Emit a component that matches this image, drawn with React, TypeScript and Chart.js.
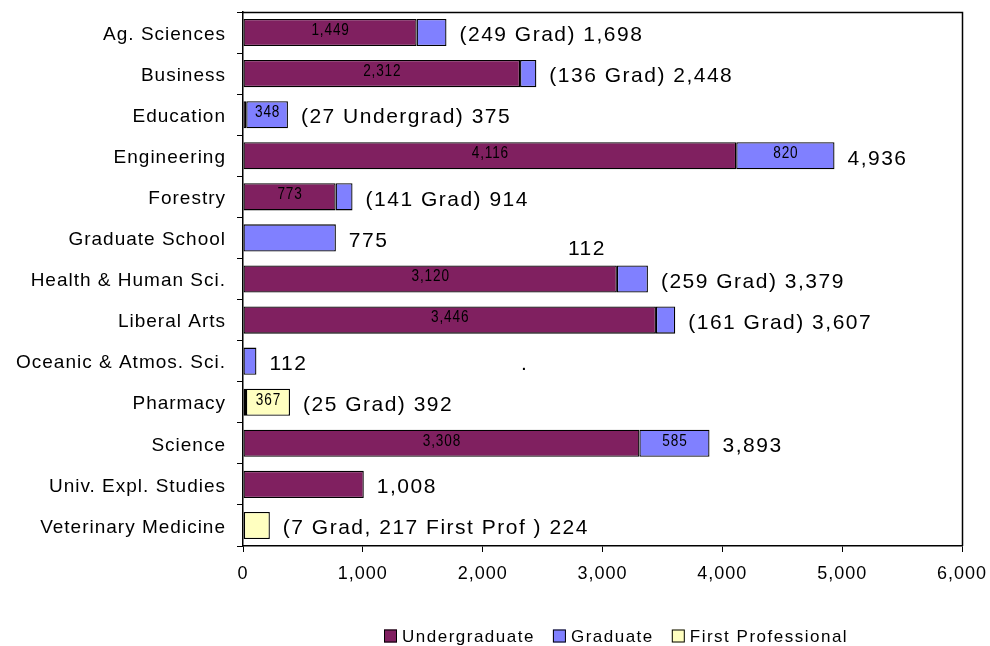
import React, { useEffect, useRef } from 'react';
import { Chart, registerables } from 'chart.js';

Chart.register(...registerables);

const categories = [
  'Ag. Sciences',
  'Business',
  'Education',
  'Engineering',
  'Forestry',
  'Graduate School',
  'Health & Human Sci.',
  'Liberal Arts',
  'Oceanic & Atmos. Sci.',
  'Pharmacy',
  'Science',
  'Univ. Expl. Studies',
  'Veterinary Medicine',
];

const undergraduate = [1449, 2312, 27, 4116, 773, 0, 3120, 3446, 0, 0, 3308, 1008, 0];
const graduate = [249, 136, 348, 820, 141, 775, 259, 161, 112, 25, 585, 0, 7];
const firstProfessional = [0, 0, 0, 0, 0, 0, 0, 0, 0, 367, 0, 0, 217];

const totalLabels = [
  '(249 Grad) 1,698',
  '(136 Grad) 2,448',
  '(27 Undergrad) 375',
  '4,936',
  '(141 Grad) 914',
  '775',
  '(259 Grad) 3,379',
  '(161 Grad) 3,607',
  '112',
  '(25 Grad) 392',
  '3,893',
  '1,008',
  '(7 Grad, 217 First Prof ) 224',
];

// which segments carry a value label inside the bar
const undergradInside = [true, true, false, true, true, false, true, true, false, false, true, false, false];
const graduateInside = [false, false, true, true, false, false, false, false, false, false, true, false, false];
const firstProfInside = [false, false, false, false, false, false, false, false, false, true, false, false, false];

// stray labels left in the original chart (value on x axis, row on category axis)
const strayLabels = [
  { text: '112', value: 2712, row: 5.2 },
  { text: '.', value: 2320, row: 8 },
];

const xMin = 0;
const xMax = 6000;
const xStep = 1000;

const seriesNames = ['Undergraduate', 'Graduate', 'First Professional'];
const seriesColors = ['#802060', '#8080FF', '#FFFFC0'];

const FONT = '"Liberation Sans", Arial, Helvetica, sans-serif';

const annotatePlugin = {
  id: 'annotate',
  beforeDraw(chart: any) {
    chart.ctx.letterSpacing = '1px';
  },
  afterDatasetsDraw(chart: any) {
    const ctx = chart.ctx;
    const inside = [undergradInside, graduateInside, firstProfInside];
    ctx.save();
    ctx.fillStyle = '#000';
    ctx.font = '16px ' + FONT;
    ctx.letterSpacing = '1px';
    ctx.textAlign = 'center';
    ctx.textBaseline = 'middle';
    chart.data.datasets.forEach((ds: any, di: number) => {
      const meta = chart.getDatasetMeta(di);
      meta.data.forEach((bar: any, i: number) => {
        if (!inside[di][i]) return;
        const v = ds.data[i];
        if (v == null) return;
        const cx = (bar.x + bar.base) / 2;
        ctx.save();
        ctx.translate(cx + 0.5, bar.y - 2);
        ctx.scale(0.85, 1);
        ctx.fillText(Number(v).toLocaleString('en-US'), 0, 0);
        ctx.restore();
      });
    });

    const xs = chart.scales.x;
    const ys = chart.scales.y;
    ctx.font = '21px ' + FONT;
    ctx.letterSpacing = '1.5px';
    ctx.textAlign = 'left';
    totalLabels.forEach((t, i) => {
      const total = undergraduate[i] + graduate[i] + firstProfessional[i];
      ctx.fillText(t, xs.getPixelForValue(total) + 13, ys.getPixelForValue(i) + 3);
    });
    strayLabels.forEach((s) => {
      ctx.fillText(s.text, xs.getPixelForValue(s.value), ys.getPixelForValue(s.row) + 3);
    });
    ctx.restore();
  },
  afterDraw(chart: any) {
    const ctx = chart.ctx;
    const a = chart.chartArea;
    ctx.save();
    ctx.strokeStyle = '#000';
    ctx.lineWidth = 1.5;
    ctx.beginPath();
    ctx.moveTo(a.left, a.top + 0.5);
    ctx.lineTo(a.right + 0.5, a.top + 0.5);
    ctx.lineTo(a.right + 0.5, a.bottom);
    ctx.stroke();

    // legend
    ctx.font = '17px ' + FONT;
    ctx.letterSpacing = '1.5px';
    ctx.textBaseline = 'middle';
    ctx.textAlign = 'left';
    const box = 13;
    const gapText = 5;
    const gapItem = 18;
    const widths = seriesNames.map((n) => box + gapText + ctx.measureText(n).width);
    const total = widths.reduce((s, w) => s + w, 0) + gapItem * (seriesNames.length - 1);
    const centerX = (a.left + a.right) / 2 + 14;
    const cy = 636;
    let x = Math.round(centerX - total / 2);
    seriesNames.forEach((n, i) => {
      ctx.fillStyle = seriesColors[i];
      ctx.fillRect(x, cy - 6.5, box, box);
      ctx.strokeStyle = '#000';
      ctx.lineWidth = 1;
      ctx.strokeRect(x + 0.5, cy - 6, box - 1, box - 1);
      ctx.fillStyle = '#000';
      ctx.fillText(n, x + box + gapText, cy + 1);
      x += widths[i] + gapItem;
    });
    ctx.restore();
  },
};

export default function App() {
  const canvasRef = useRef<HTMLCanvasElement | null>(null);

  useEffect(() => {
    const canvas = canvasRef.current;
    if (!canvas) return;
    Chart.defaults.font.family = FONT;
    Chart.defaults.color = '#000';

    const toData = (arr: number[]) => arr.map((v) => (v === 0 ? null : v));
    const series = [undergraduate, graduate, firstProfessional];

    const chart = new Chart(canvas, {
      type: 'bar',
      data: {
        labels: categories,
        datasets: series.map((arr, i) => ({
          label: seriesNames[i],
          data: toData(arr) as any,
          backgroundColor: seriesColors[i],
          borderColor: '#000',
          borderWidth: 1.3,
          borderSkipped: false,
          categoryPercentage: 1,
          barPercentage: 0.66,
        })),
      },
      options: {
        indexAxis: 'y',
        animation: false,
        responsive: false,
        maintainAspectRatio: false,
        locale: 'en-US',
        layout: { padding: { left: 0, right: 28, top: 12, bottom: 0 } },
        plugins: {
          legend: { display: false },
          tooltip: { enabled: false },
          title: { display: false },
        },
        scales: {
          x: {
            stacked: true,
            min: xMin,
            max: xMax,
            ticks: {
              stepSize: xStep,
              font: { size: 18, family: FONT },
              color: '#000',
              padding: 11,
              maxRotation: 0,
            },
            grid: {
              display: true,
              drawOnChartArea: false,
              drawTicks: true,
              tickLength: 6,
              color: '#000',
              lineWidth: 1,
            },
            border: { display: true, color: '#000', width: 1.5 },
            afterFit(scale: any) {
              scale.height = 100;
              scale.paddingLeft = 0;
              scale.paddingRight = 0;
            },
          },
          y: {
            stacked: true,
            ticks: {
              font: { size: 19, family: FONT },
              color: '#000',
              padding: 11,
              autoSkip: false,
              labelOffset: 2,
            },
            grid: {
              display: true,
              drawOnChartArea: false,
              drawTicks: true,
              tickLength: 6,
              offset: true,
              color: '#000',
              lineWidth: 1,
            },
            border: { display: true, color: '#000', width: 1.5 },
            afterFit(scale: any) {
              scale.width = 243;
              scale.paddingTop = 0;
              scale.paddingBottom = 0;
            },
          },
        },
      },
      plugins: [annotatePlugin],
    });

    return () => {
      chart.destroy();
    };
  }, []);

  return (
    <div style={{ position: 'fixed', left: 0, top: 0, width: 990, height: 646, background: '#fff' }}>
      <canvas ref={canvasRef} width={990} height={646} style={{ width: 990, height: 646, display: 'block' }} />
    </div>
  );
}
